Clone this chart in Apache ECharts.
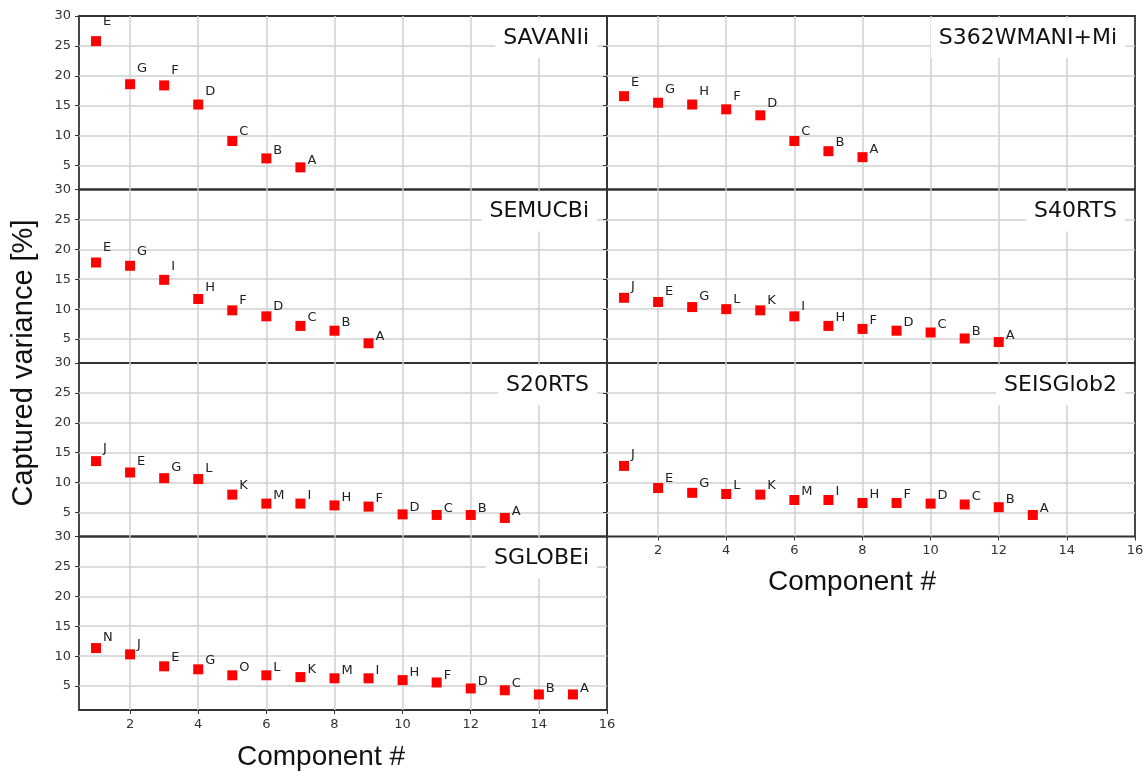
<!DOCTYPE html>
<html><head><meta charset="utf-8">
<script src="https://cdn.jsdelivr.net/npm/echarts@6/dist/echarts.min.js"></script>
<style>html,body{margin:0;padding:0;background:#fff}#c{width:1147px;height:771px}</style>
</head><body><div id="c"></div>
<script>
// ---- data ----
const panelNames = ['SAVANIi', 'S362WMANI+Mi', 'SEMUCBi', 'S40RTS', 'S20RTS', 'SEISGlob2', 'SGLOBEi'];

const savaniVals = [25.8, 18.6, 18.4, 15.2, 9.1, 6.2, 4.7];
const savaniTags = ['E', 'G', 'F', 'D', 'C', 'B', 'A'];

const s362Vals = [16.6, 15.5, 15.2, 14.4, 13.4, 9.1, 7.4, 6.4];
const s362Tags = ['E', 'G', 'H', 'F', 'D', 'C', 'B', 'A'];

const semucbVals = [17.8, 17.25, 14.9, 11.7, 9.8, 8.8, 7.2, 6.4, 4.3];
const semucbTags = ['E', 'G', 'I', 'H', 'F', 'D', 'C', 'B', 'A'];

const s40Vals = [11.9, 11.2, 10.35, 10.0, 9.8, 8.8, 7.2, 6.7, 6.4, 6.1, 5.1, 4.5];
const s40Tags = ['J', 'E', 'G', 'L', 'K', 'I', 'H', 'F', 'D', 'C', 'B', 'A'];

const s20Vals = [13.6, 11.7, 10.75, 10.6, 8.0, 6.5, 6.5, 6.2, 6.0, 4.7, 4.6, 4.6, 4.1];
const s20Tags = ['J', 'E', 'G', 'L', 'K', 'M', 'I', 'H', 'F', 'D', 'C', 'B', 'A'];

const seisVals = [12.8, 9.1, 8.3, 8.1, 8.0, 7.1, 7.1, 6.6, 6.6, 6.5, 6.35, 5.9, 4.6];
const seisTags = ['J', 'E', 'G', 'L', 'K', 'M', 'I', 'H', 'F', 'D', 'C', 'B', 'A'];

const sglobeVals = [11.35, 10.3, 8.3, 7.8, 6.8, 6.8, 6.5, 6.3, 6.3, 6.0, 5.6, 4.6, 4.3, 3.6, 3.6];
const sglobeTags = ['N', 'J', 'E', 'G', 'O', 'L', 'K', 'M', 'I', 'H', 'F', 'D', 'C', 'B', 'A'];

const yTicks = [5, 10, 15, 20, 25, 30];
const xTicks = [2, 4, 6, 8, 10, 12, 14, 16];

const yTitle = 'Captured variance [%]';
const xTitle = 'Component #';

const panelVals = [savaniVals, s362Vals, semucbVals, s40Vals, s20Vals, seisVals, sglobeVals];
const panelTags = [savaniTags, s362Tags, semucbTags, s40Tags, s20Tags, seisTags, sglobeTags];

// ---- layout ----
const LEFT0 = 79, PW = 528, TOP0 = 16, PH = 173.5;
const Y_MIN = 1, Y_MAX = 30, X_MIN = 0.5, X_MAX = 16;
const pxPerUnit = PH / (Y_MAX - Y_MIN);
const tickFont = 'DejaVu Sans';

const grids = [], xAxes = [], yAxes = [], series = [], titles = [];
panelNames.forEach((name, i) => {
  const col = i % 2, row = Math.floor(i / 2);
  const left = LEFT0 + col * PW, top = TOP0 + row * PH;
  const isBottom = (i === 5 || i === 6);
  grids.push({
    left: left, top: top, width: PW, height: PH,
    show: true, borderColor: '#333', borderWidth: 1.8, backgroundColor: 'transparent'
  });
  xAxes.push({
    type: 'value', gridIndex: i, min: X_MIN, max: X_MAX,
    axisLine: { show: false },
    axisTick: { show: isBottom, customValues: xTicks, length: 4, lineStyle: { color: '#333', width: 1 } },
    axisLabel: { show: isBottom, customValues: xTicks, margin: 8, fontSize: 13, color: '#333', fontFamily: tickFont },
    splitLine: { show: true, showMaxLine: false, lineStyle: { color: '#d0d0d0', width: 1.5 } }
  });
  yAxes.push({
    type: 'value', gridIndex: i, min: Y_MIN, max: Y_MAX,
    axisLine: { show: false },
    axisTick: { show: true, customValues: yTicks, length: 4, lineStyle: { color: '#333', width: 1 } },
    axisLabel: { show: col === 0, customValues: yTicks, margin: 8, fontSize: 13, color: '#333', fontFamily: tickFont },
    splitLine: { show: true, showMaxLine: false, lineStyle: { color: '#d0d0d0', width: 1.5 } }
  });
  const vals = panelVals[i], tags = panelTags[i];
  series.push({
    type: 'scatter', xAxisIndex: i, yAxisIndex: i,
    symbol: 'rect', symbolSize: 10,
    itemStyle: { color: '#ff0000', opacity: 1 },
    label: {
      show: true, formatter: '{b}', position: 'inside', align: 'left', verticalAlign: 'middle',
      fontSize: 13, color: '#222', fontFamily: tickFont
    },
    emphasis: { disabled: true },
    data: vals.map((v, k) => ({
      name: tags[k], value: [k + 1, v],
      label: { offset: [7, -(v * 0.1 * pxPerUnit) - 4] }
    }))
  });
  titles.push({
    text: name, right: 1147 - (left + PW - 10), top: top + 2,
    padding: [8, 8], backgroundColor: '#ffffff',
    textStyle: { fontSize: 22, fontWeight: 'normal', color: '#111', fontFamily: tickFont, lineHeight: 24 }
  });
});

const chart = echarts.init(document.getElementById('c'), null, { renderer: 'canvas' });
chart.setOption({
  animation: false,
  backgroundColor: '#ffffff',
  title: titles,
  grid: grids, xAxis: xAxes, yAxis: yAxes, series: series,
  graphic: [
    { type: 'text', x: 24, y: 363, rotation: Math.PI / 2,
      style: { text: yTitle, fontSize: 29, fontFamily: 'Liberation Sans', fill: '#111', align: 'center', verticalAlign: 'middle' } },
    { type: 'text', x: 321, y: 757,
      style: { text: xTitle, fontSize: 28, fontFamily: 'Liberation Sans', fill: '#111', align: 'center', verticalAlign: 'middle' } },
    { type: 'text', x: 852, y: 582,
      style: { text: xTitle, fontSize: 28, fontFamily: 'Liberation Sans', fill: '#111', align: 'center', verticalAlign: 'middle' } }
  ]
});
</script></body></html>
